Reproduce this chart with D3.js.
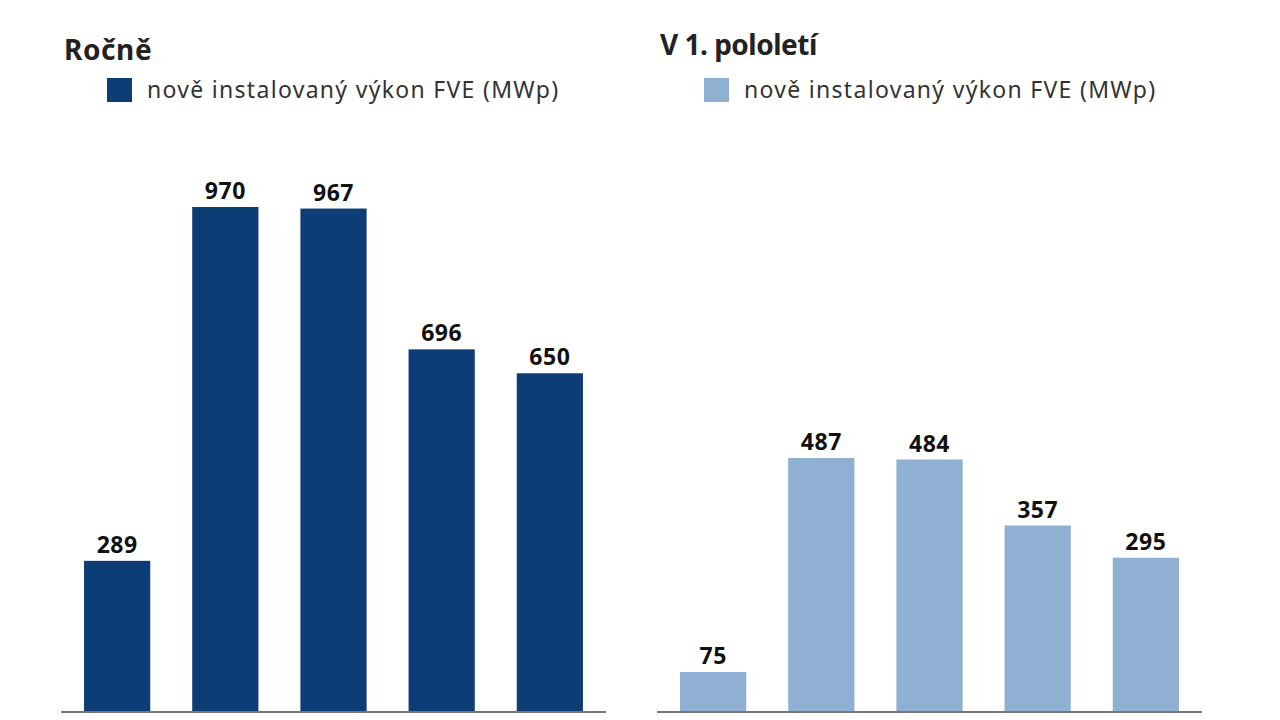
<!DOCTYPE html>
<html>
<head>
<meta charset="utf-8">
<script src="https://cdn.jsdelivr.net/npm/d3@7"></script>
<style>
  html, body { margin: 0; padding: 0; background: #fff; }
  svg { display: block; font-family: "Noto Sans", sans-serif; }
</style>
</head>
<body>
<svg id="chart" width="1280" height="720"></svg>
<script>
const categories = ['1', '2', '3', '4', '5'];
const yearlyValues = [289, 970, 967, 696, 650];
const halfYearValues = [75, 487, 484, 357, 295];
const panelTitles = ['Ročně', 'V 1. pololetí'];
const legendLabel = 'nově instalovaný výkon FVE (MWp)';

const svg = d3.select('#chart');
const BASE_Y = 711;
const PLOT_TOP = 207;

// shared y scale: both panels use the same px per MWp
const yScale = d3.scaleLinear().domain([0, 970]).range([BASE_Y, PLOT_TOP]);

const panels = [
    { title: panelTitles[0], values: yearlyValues, color: '#0c3d74', x0: 61, x1: 606, titleX: 64, titleY: 60, legX: 107, titleSpacing: '0.6px' },
    { title: panelTitles[1], values: halfYearValues, color: '#8fafd3', x0: 657, x1: 1202, titleX: 660, titleY: 55, legX: 704, titleSpacing: '-0.5px' }
];

panels.forEach(p => {
    const g = svg.append('g');

    g.append('text')
        .attr('x', p.titleX).attr('y', p.titleY)
        .style('font-size', '28px').style('font-weight', 'bold').style('fill', '#222')
        .style('letter-spacing', p.titleSpacing)
        .text(p.title);

    // legend
    g.append('rect')
        .attr('x', p.legX).attr('y', 78)
        .attr('width', 25).attr('height', 24)
        .attr('fill', p.color);
    g.append('text')
        .attr('x', p.legX + 40).attr('y', 98)
        .style('font-size', '23px').style('fill', '#333')
        .style('letter-spacing', '1.3px')
        .text(legendLabel);

    const xScale = d3.scaleBand()
        .domain(categories)
        .range([p.x0, p.x1])
        .paddingInner(0.388)
        .paddingOuter(0.213);

    g.selectAll('rect.bar')
        .data(p.values)
        .join('rect')
        .attr('class', 'bar')
        .attr('x', (d, i) => xScale(categories[i]))
        .attr('y', d => yScale(d))
        .attr('width', xScale.bandwidth())
        .attr('height', d => BASE_Y - yScale(d))
        .attr('fill', p.color);

    g.selectAll('text.val')
        .data(p.values)
        .join('text')
        .attr('class', 'val')
        .attr('x', (d, i) => xScale(categories[i]) + xScale.bandwidth() / 2)
        .attr('y', d => yScale(d) - 8)
        .attr('text-anchor', 'middle')
        .style('font-size', '23px').style('font-weight', 'bold').style('fill', '#111')
        .style('letter-spacing', '0.5px')
        .text(d => d);

    // baseline
    g.append('line')
        .attr('x1', p.x0).attr('x2', p.x1)
        .attr('y1', BASE_Y + 1).attr('y2', BASE_Y + 1)
        .attr('stroke', '#777').attr('stroke-width', 2);
});
</script>
</body>
</html>
